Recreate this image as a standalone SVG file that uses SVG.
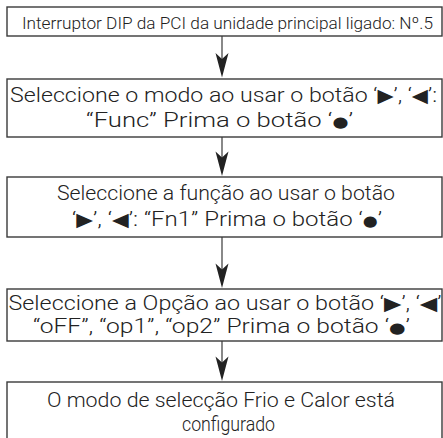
<svg xmlns="http://www.w3.org/2000/svg" width="443" height="438" viewBox="0 0 443 438">
<defs>
<style>
.box{fill:#fff;stroke:#3a3a3a;stroke-width:1.4}
.t{font-family:Roboto,"Liberation Sans","DejaVu Sans",sans-serif;font-weight:300;font-size:21px;fill:#222}
.s{font-size:17px}
.m{font-size:19.5px}
.g{font-family:"DejaVu Sans",sans-serif;font-weight:400;font-size:19px}
.b{font-family:"DejaVu Sans",sans-serif;font-weight:400;font-size:15px}
.ln{stroke:#3a3a3a;stroke-width:1.2;fill:none}
.ah{fill:#222}
</style>
</defs>
<rect width="443" height="438" fill="#fff"/>
<g id="connectors">
<line class="ln" x1="222" y1="36" x2="222" y2="60"/><path class="ah" d="M222,77.5 L215.5,53 L222,59 L228.5,53 Z"/>
<line class="ln" x1="222" y1="137" x2="222" y2="158"/><path class="ah" d="M222,176 L215.5,151.5 L222,157.5 L228.5,151.5 Z"/>
<line class="ln" x1="222" y1="237" x2="222" y2="270"/><path class="ah" d="M222,288 L215.5,263.5 L222,269.5 L228.5,263.5 Z"/>
<line class="ln" x1="222" y1="341" x2="222" y2="363"/><path class="ah" d="M222,381 L215.5,356.5 L222,362.5 L228.5,356.5 Z"/>
</g>
<g id="n1"><rect class="box" x="7" y="7" width="435" height="29"/>
<text class="t s" x="22" y="28.5" textLength="411" lengthAdjust="spacingAndGlyphs">Interruptor DIP da PCI da unidade principal ligado: Nº.5</text></g>
<g id="n2"><rect class="box" x="7" y="79" width="435" height="58"/>
<text class="t" x="10" y="102" textLength="427" lengthAdjust="spacingAndGlyphs">Seleccione o modo ao usar o botão ‘<tspan class="g">▶</tspan>’, ‘<tspan class="g">◀</tspan>’:</text>
<text class="t" x="86" y="127" textLength="267" lengthAdjust="spacingAndGlyphs">“Func” Prima o botão ‘<tspan class="b">●</tspan>’</text></g>
<g id="n3"><rect class="box" x="7" y="177" width="435" height="60"/>
<text class="t" x="57" y="200" textLength="338" lengthAdjust="spacingAndGlyphs">Seleccione a função ao usar o botão</text>
<text class="t" x="72" y="226" textLength="310" lengthAdjust="spacingAndGlyphs">‘<tspan class="g">▶</tspan>’, ‘<tspan class="g">◀</tspan>’: “Fn1” Prima o botão ‘<tspan class="b">●</tspan>’</text></g>
<g id="n4"><rect class="box" x="7" y="289" width="435" height="52"/>
<text class="t m" x="8.5" y="309.5" textLength="433" lengthAdjust="spacingAndGlyphs">Seleccione a Opção ao usar o botão ‘<tspan class="g">▶</tspan>’, ‘<tspan class="g">◀</tspan>’</text>
<text class="t m" x="33" y="332.5" textLength="377" lengthAdjust="spacingAndGlyphs">“oFF”, “op1”, “op2” Prima o botão ‘<tspan class="b">●</tspan>’</text></g>
<g id="n5"><rect class="box" x="7" y="382" width="435" height="70"/>
<text class="t" x="47" y="407" textLength="348" lengthAdjust="spacingAndGlyphs">O modo de selecção Frio e Calor está</text>
<text class="t" x="182" y="431" textLength="93" lengthAdjust="spacingAndGlyphs">configurado</text></g>
</svg>
